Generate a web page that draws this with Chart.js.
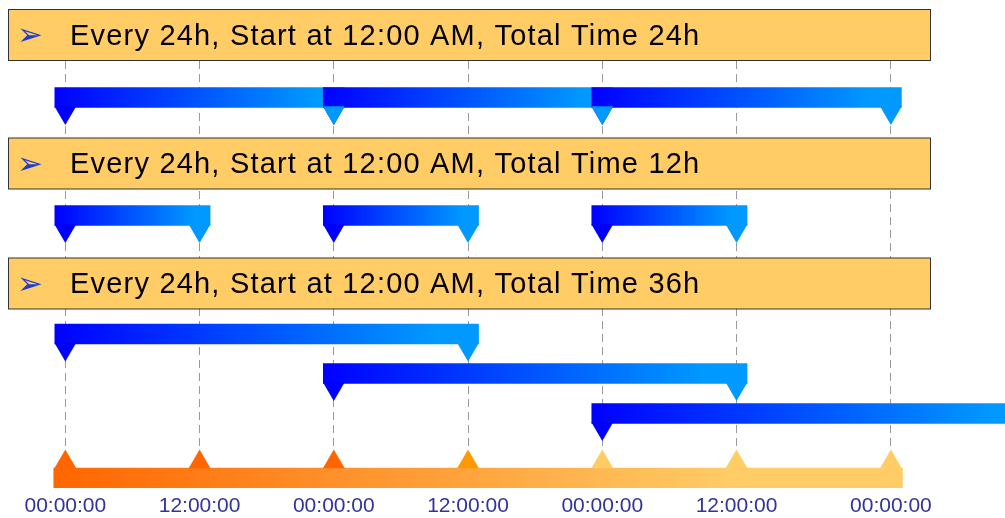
<!DOCTYPE html>
<html>
<head>
<meta charset="utf-8">
<script src="https://cdn.jsdelivr.net/npm/chart.js@4.4.1/dist/chart.umd.min.js"></script>
<style>
  html, body { margin: 0; padding: 0; background: #fff; }
  canvas { display: block; }
</style>
</head>
<body>
<canvas id="timeline" width="1005" height="518"></canvas>
<script>
// time axis (hours from first dose) and its labels
const GRID_HOURS = [0, 12, 24, 36, 48, 60, 73.8];
const TICK_LABELS = ['00:00:00', '12:00:00', '00:00:00', '12:00:00', '00:00:00', '12:00:00', '00:00:00'];
const TICK_COLORS = ['#FF6600', '#FF6600', '#FF6600', '#FF9900', '#FFCC66', '#FFCC66', '#FFCC66'];

const HEADER_TEXT = [
  'Every 24h, Start at 12:00 AM, Total Time 24h',
  'Every 24h, Start at 12:00 AM, Total Time 12h',
  'Every 24h, Start at 12:00 AM, Total Time 36h'
];

// dose windows, hours
const ROW1_START = [0, 24, 48];
const ROW1_END = [24, 48, 73.8];
const ROW2_START = [0, 24, 48];
const ROW2_END = [12, 36, 60];
const ROW3_START = [0, 24, 48];
const ROW3_END = [36, 60, 86];
const AXIS_SPAN = [0, 73.8];

// layout
const W = 1005;
const X_MIN = -5.84, X_MAX = 84.0;
const LANE = { head: [35, 163.5, 283.5], row1: 97.5, row2: 215.5, row3: [334, 373.5, 413.5], axis: 478 };
const BAR_CAP_PX = 10.5;
const TRI_R = 12.6;
const TRI_DROP = 15;
const AXIS_TRI_RISE = 16;
const BLUE_STOPS = [[0, '#0000FF'], [0.9, '#0099FF'], [1, '#0099FF']];
const AXIS_STOPS = [[0, '#FF6600'], [0.8, '#FFCC66'], [1, '#FFCC66']];

const capH = BAR_CAP_PX * (X_MAX - X_MIN) / W;

const bars = [];
const startTris = [];
const endTris = [];
function addRow(starts, ends, lane) {
  starts.forEach((s, i) => {
    const y = Array.isArray(lane) ? lane[i] : lane;
    bars.push({ x: [s - capH, ends[i] + capH], y, kind: 'dose' });
    startTris.push({ x: s, y: y + TRI_DROP });
    endTris.push({ x: ends[i], y: y + TRI_DROP });
  });
}
addRow(ROW1_START, ROW1_END, LANE.row1);
addRow(ROW2_START, ROW2_END, LANE.row2);
addRow(ROW3_START, ROW3_END, LANE.row3);
bars.push({ x: [AXIS_SPAN[0] - capH * 1.1, AXIS_SPAN[1] + capH * 1.1], y: LANE.axis, kind: 'axis' });

function barFill(ctx) {
  const d = ctx.raw;
  const solid = d && d.kind === 'axis' ? '#FF9933' : '#0066FF';
  if (!d || !d.x) return solid;
  const xs = ctx.chart.scales.x;
  const x0 = xs.getPixelForValue(d.x[0]);
  const x1 = xs.getPixelForValue(d.x[1]);
  if (!isFinite(x0) || !isFinite(x1) || x0 === x1) return solid;
  const g = ctx.chart.ctx.createLinearGradient(x0, 0, x1, 0);
  (d.kind === 'axis' ? AXIS_STOPS : BLUE_STOPS).forEach(([o, c]) => g.addColorStop(o, c));
  return g;
}

const headerPlugin = {
  id: 'headers',
  afterDatasetsDraw(chart) {
    const { ctx } = chart;
    const ys = chart.scales.y;
    HEADER_TEXT.forEach((text, i) => {
      const cy = ys.getPixelForValue(LANE.head[i]);
      ctx.save();
      ctx.fillStyle = '#FFCC66';
      ctx.fillRect(8.5, cy - 25.5, 922, 51);
      ctx.strokeStyle = '#333333';
      ctx.lineWidth = 1;
      ctx.strokeRect(8.5, cy - 25.5, 922, 51);
      ctx.textBaseline = 'alphabetic';
      ctx.fillStyle = '#1E3CD2';
      ctx.font = '31px "DejaVu Sans"';
      ctx.fillText('➢', 17, cy + 10);
      ctx.fillStyle = '#000000';
      ctx.font = '29px "Liberation Sans", Arial, sans-serif';
      ctx.letterSpacing = '1.2px';
      ctx.fillText(text, 70, cy + 9.6);
      ctx.restore();
    });
  }
};

const triOpts = { pointStyle: 'triangle', radius: TRI_R, hoverRadius: TRI_R, borderWidth: 0 };

new Chart(document.getElementById('timeline'), {
  type: 'bar',
  data: {
    datasets: [
      { type: 'scatter', data: endTris, backgroundColor: '#0099FF', rotation: 180, ...triOpts },
      { type: 'scatter', data: startTris, backgroundColor: '#0000FF', rotation: 180, ...triOpts },
      { type: 'scatter', data: GRID_HOURS.map(h => ({ x: h, y: LANE.axis - AXIS_TRI_RISE })),
        backgroundColor: TICK_COLORS, rotation: 0, ...triOpts },
      { type: 'bar', indexAxis: 'y', data: bars, backgroundColor: barFill,
        barThickness: 20, borderWidth: 0, borderSkipped: false }
    ]
  },
  options: {
    responsive: false,
    animation: false,
    events: [],
    layout: { autoPadding: false, padding: { top: 9, left: 0, right: 0, bottom: 0 } },
    plugins: { legend: { display: false }, tooltip: { enabled: false } },
    scales: {
      x: {
        type: 'linear',
        min: X_MIN,
        max: X_MAX,
        bounds: 'data',
        offset: false,
        afterBuildTicks: scale => { scale.ticks = GRID_HOURS.map(v => ({ value: v })); },
        afterFit: scale => { scale.height = 30; },
        grid: { offset: false, color: '#999999', lineWidth: 1, drawTicks: false },
        border: { display: false, dash: [8, 5] },
        ticks: {
          autoSkip: false,
          maxRotation: 0,
          padding: 6,
          color: '#333399',
          font: { family: '"Liberation Sans", Arial, sans-serif', size: 21 },
          callback: (value, index) => TICK_LABELS[index]
        }
      },
      y: {
        type: 'linear',
        min: 9,
        max: 488,
        reverse: true,
        offset: false,
        grid: { offset: false, display: false },
        display: false
      }
    }
  },
  plugins: [headerPlugin]
});
</script>
</body>
</html>
